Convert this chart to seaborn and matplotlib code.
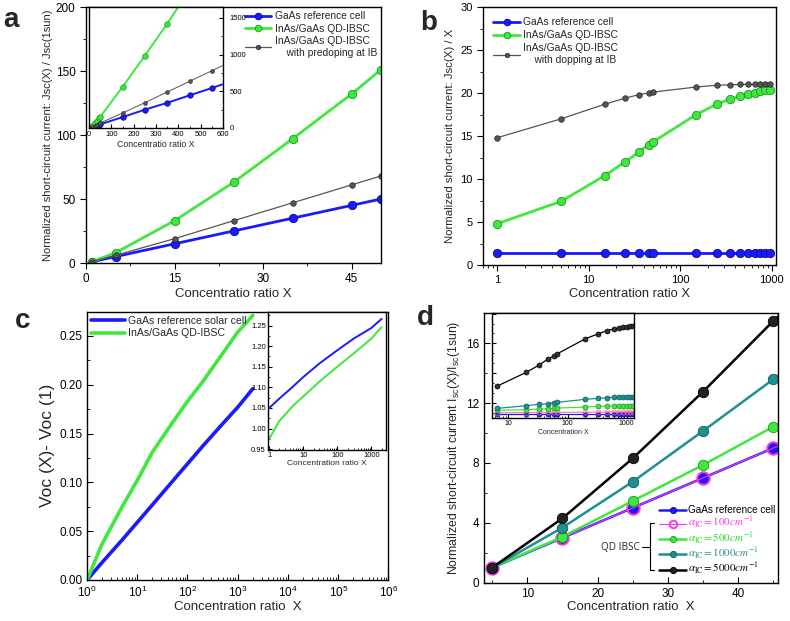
import matplotlib
matplotlib.use("Agg")
import matplotlib.pyplot as plt
from matplotlib.lines import Line2D
from matplotlib.ticker import MultipleLocator, FixedLocator, FuncFormatter, NullFormatter, LogLocator, AutoMinorLocator
import seaborn as sns

# ---- panel a: Jsc(X)/Jsc(1sun) ----
a_x = [1, 5, 15, 25, 35, 45, 50]
a_gaas = [1, 5, 15, 25, 35, 45, 50]
a_qd = [1, 8, 33, 63, 97, 132, 151]
a_qd_dop = [1, 6, 19, 33, 47, 61, 68]

# panel a inset (up to 650 suns)
ai_x = [1, 5, 15, 25, 35, 45, 50, 150, 250, 350, 450, 550, 650]
ai_gaas = [1, 5, 15, 25, 35, 45, 50, 148, 250, 343, 445, 545, 650]
ai_qd = [1, 8, 33, 63, 97, 132, 151, 559, 986, 1422, 1880, 2330, 2780]
ai_qd_dop = [1, 6, 19, 33, 47, 61, 68, 204, 345, 491, 636, 781, 925]

# ---- panel b: Jsc(X)/X ----
b_x = [1, 5, 15, 25, 35, 45, 50, 150, 250, 350, 450, 550, 650, 750, 850, 950]
b_gaas = [1.35] * 16
b_qd = [4.8, 7.4, 10.4, 12.0, 13.1, 14.0, 14.3, 17.5, 18.7, 19.3, 19.6, 19.9, 20.0, 20.2, 20.3, 20.35]
b_qd_dop = [14.8, 17.0, 18.7, 19.4, 19.8, 20.0, 20.1, 20.7, 20.9, 20.95, 21.0, 21.0, 21.0, 21.0, 21.0, 21.0]

# ---- panel c: Voc(X) - Voc(1) ----
c_x = [1, 2, 5, 10, 20, 50, 100, 200, 500, 1000, 2000]
c_gaas = [0, 0.018, 0.041, 0.059, 0.077, 0.101, 0.119, 0.137, 0.160, 0.177, 0.196]
c_qd = [0, 0.037, 0.075, 0.102, 0.131, 0.161, 0.183, 0.203, 0.232, 0.254, 0.271]

ci_x = [1, 2, 5, 10, 30, 100, 300, 1000, 2000]
ci_gaas = [1.050, 1.073, 1.102, 1.125, 1.158, 1.190, 1.218, 1.244, 1.266]
ci_qd = [0.975, 1.019, 1.055, 1.078, 1.114, 1.150, 1.182, 1.218, 1.246]

# ---- panel d: Isc(X)/Isc(1sun) for several alpha_IC ----
d_x = [5, 15, 25, 35, 45, 50]
d_gaas = [1, 3, 5, 7, 9, 10]
d_a100 = [1, 3, 5, 7, 9, 10]
d_a500 = [1, 3.07, 5.46, 7.87, 10.43, 11.7]
d_a1000 = [1, 3.68, 6.75, 10.14, 13.6, 15.5]
d_a5000 = [1, 4.3, 8.31, 12.77, 17.5, 19.7]

di_x = [6.5, 20, 33, 46, 60, 66, 200, 333, 466, 600, 733, 866, 1000, 1133, 1266]
di_gaas = [0.902] * 15
di_a100 = [0.916, 0.917, 0.918, 0.918, 0.919, 0.919, 0.920, 0.921, 0.921, 0.922, 0.922, 0.922, 0.922, 0.922, 0.922]
di_a500 = [0.936, 0.941, 0.947, 0.949, 0.953, 0.955, 0.964, 0.970, 0.972, 0.973, 0.974, 0.974, 0.975, 0.975, 0.975]
di_a1000 = [0.953, 0.975, 0.987, 0.992, 1.000, 1.003, 1.029, 1.037, 1.042, 1.045, 1.047, 1.048, 1.049, 1.050, 1.050]
di_a5000 = [1.141, 1.256, 1.318, 1.366, 1.396, 1.410, 1.539, 1.581, 1.607, 1.621, 1.629, 1.635, 1.640, 1.646, 1.649]

BLUE = "#1a1aff"
GREEN = "#3ee83e"
GRAY = "#555555"
MAGENTA = "#ff33ee"
TEAL = "#1f9090"

sns.set_style("ticks")
plt.rcParams["font.family"] = ["Liberation Sans", "DejaVu Sans"]
plt.rcParams["axes.linewidth"] = 1.0

W, H = 790, 621
fig = plt.figure(figsize=(W / 100, H / 100), dpi=100)


def px_axes(left, top, right, bottom):
    return fig.add_axes([left / W, 1 - bottom / H, (right - left) / W, (bottom - top) / H])


def box(ax, direction, size):
    for s in ax.spines.values():
        s.set_visible(True)
        s.set_color("black")
    ax.tick_params(which="both", direction=direction, labelsize=size, colors="black")
    ax.tick_params(which="major", length=4)
    ax.tick_params(which="minor", length=2)


plain = FuncFormatter(lambda v, p: f"{v:g}")

# ================= a =================
ax = px_axes(86, 7, 381, 263)
sns.lineplot(x=a_x, y=a_gaas, ax=ax, color=BLUE, linewidth=2, marker="o", markersize=6,
             markeredgecolor="#0b0b90", markeredgewidth=0.6, label="GaAs reference cell")
sns.lineplot(x=a_x, y=a_qd, ax=ax, color=GREEN, linewidth=2, marker="o", markersize=6,
             markeredgecolor="#1b9a1b", markeredgewidth=0.6, label="InAs/GaAs QD-IBSC")
sns.lineplot(x=a_x, y=a_qd_dop, ax=ax, color=GRAY, linewidth=0.9, marker="o", markersize=4,
             markeredgecolor="#222222", markeredgewidth=0.5,
             label="InAs/GaAs QD-IBSC\n    with predoping at IB")
ax.set_xlim(0, 50)
ax.set_ylim(0, 200)
ax.xaxis.set_major_locator(MultipleLocator(15))
ax.xaxis.set_minor_locator(MultipleLocator(7.5))
ax.yaxis.set_major_locator(MultipleLocator(50))
ax.yaxis.set_minor_locator(MultipleLocator(25))
box(ax, "out", 8.5)
ax.set_xlabel("Concentratio ratio X", fontsize=9.5, labelpad=2)
ax.set_ylabel("Normalized short-circuit current: Jsc(X) / Jsc(1sun)", fontsize=8, labelpad=2)
ax.legend(loc="upper right", frameon=False, fontsize=7.4, handlelength=2.6, handletextpad=0.3,
          labelspacing=0.25, borderaxespad=0.3, borderpad=0.1, markerscale=0.8)

axi = px_axes(89, 7, 223, 128)
sns.lineplot(x=ai_x, y=ai_gaas, ax=axi, color=BLUE, linewidth=1.4, marker="o", markersize=4,
             markeredgecolor="#0b0b90", markeredgewidth=0.5, legend=False)
sns.lineplot(x=ai_x, y=ai_qd, ax=axi, color=GREEN, linewidth=1.4, marker="o", markersize=4,
             markeredgecolor="#1b9a1b", markeredgewidth=0.5, legend=False)
sns.lineplot(x=ai_x, y=ai_qd_dop, ax=axi, color=GRAY, linewidth=0.7, marker="o", markersize=2.8,
             markeredgecolor="#222222", markeredgewidth=0.4, legend=False)
axi.set_xlim(0, 600)
axi.set_ylim(0, 1650)
axi.xaxis.set_major_locator(MultipleLocator(100))
axi.xaxis.set_minor_locator(MultipleLocator(50))
axi.yaxis.set_major_locator(MultipleLocator(500))
axi.yaxis.set_minor_locator(MultipleLocator(250))
axi.yaxis.tick_right()
box(axi, "in", 5.5)
axi.tick_params(which="major", length=3, pad=2.5)
axi.tick_params(which="minor", length=1.5)
axi.tick_params(axis="y", pad=4.5)
axi.set_xlabel("Concentratio ratio X", fontsize=6.3, labelpad=1)

# ================= b =================
ax = px_axes(483, 7, 776, 265)
sns.lineplot(x=b_x, y=b_gaas, ax=ax, color=BLUE, linewidth=2, marker="o", markersize=6,
             markeredgecolor="#0b0b90", markeredgewidth=0.6, label="GaAs reference cell")
sns.lineplot(x=b_x, y=b_qd, ax=ax, color=GREEN, linewidth=2, marker="o", markersize=6,
             markeredgecolor="#1b9a1b", markeredgewidth=0.6, label="InAs/GaAs QD-IBSC")
sns.lineplot(x=b_x, y=b_qd_dop, ax=ax, color=GRAY, linewidth=0.9, marker="o", markersize=4,
             markeredgecolor="#222222", markeredgewidth=0.5,
             label="InAs/GaAs QD-IBSC\n    with dopping at IB")
ax.set_xscale("log")
ax.set_xlim(0.7, 1110)
ax.set_ylim(0, 30)
ax.xaxis.set_major_locator(FixedLocator([1, 10, 100, 1000]))
ax.xaxis.set_major_formatter(plain)
ax.xaxis.set_minor_locator(LogLocator(base=10, subs=range(2, 10), numticks=20))
ax.xaxis.set_minor_formatter(NullFormatter())
ax.yaxis.set_major_locator(MultipleLocator(5))
ax.yaxis.set_minor_locator(MultipleLocator(2.5))
box(ax, "out", 8)
ax.set_xlabel("Concentration ratio X", fontsize=9.3, labelpad=2)
ax.set_ylabel("Normalized short-circuit current: Jsc(X) / X", fontsize=8.2, labelpad=4)
ax.legend(loc="upper left", frameon=False, fontsize=7.4, handlelength=2.6, handletextpad=0.3,
          labelspacing=0.3, borderaxespad=0.9, borderpad=0.1, markerscale=0.8)

# ================= c =================
ax = px_axes(87, 311.5, 388.5, 580)
sns.lineplot(x=c_x, y=c_gaas, ax=ax, color=BLUE, linewidth=2.6, label="GaAs reference solar cell")
sns.lineplot(x=c_x, y=c_qd, ax=ax, color=GREEN, linewidth=2.6, label="InAs/GaAs QD-IBSC")
ax.set_xscale("log")
ax.set_xlim(1, 1e6)
ax.set_ylim(0, 0.275)
ax.xaxis.set_major_locator(LogLocator(base=10, numticks=10))
ax.xaxis.set_minor_locator(LogLocator(base=10, subs=range(2, 10), numticks=60))
ax.xaxis.set_minor_formatter(NullFormatter())
ax.yaxis.set_major_locator(MultipleLocator(0.05))
ax.yaxis.set_minor_locator(MultipleLocator(0.025))
ax.yaxis.set_major_formatter(FuncFormatter(lambda v, p: f"{v:.2f}"))
box(ax, "in", 8.5)
ax.set_xlabel("Concentration ratio  X", fontsize=9.5, labelpad=1)
ax.set_ylabel("Voc (X)- Voc (1)", fontsize=12.5, labelpad=3)
ax.legend(loc="upper left", frameon=False, fontsize=7.6, handlelength=3.2, handletextpad=0.3,
          labelspacing=0.25, borderaxespad=0.3, borderpad=0.1)

axi = px_axes(268, 311.5, 386, 450)
sns.lineplot(x=ci_x, y=ci_gaas, ax=axi, color=BLUE, linewidth=1.4, legend=False)
sns.lineplot(x=ci_x, y=ci_qd, ax=axi, color=GREEN, linewidth=1.4, legend=False)
axi.set_xscale("log")
axi.set_xlim(0.92, 2700)
axi.set_ylim(0.948, 1.284)
axi.xaxis.set_major_locator(FixedLocator([1, 10, 100, 1000]))
axi.xaxis.set_major_formatter(plain)
axi.xaxis.set_minor_locator(LogLocator(base=10, subs=range(2, 10), numticks=20))
axi.xaxis.set_minor_formatter(NullFormatter())
axi.yaxis.set_major_locator(MultipleLocator(0.05))
axi.yaxis.set_minor_locator(MultipleLocator(0.025))
axi.yaxis.set_major_formatter(FuncFormatter(lambda v, p: f"{v:.2f}"))
box(axi, "in", 5.5)
axi.tick_params(which="major", length=3, pad=1.5)
axi.tick_params(which="minor", length=1.5)
axi.set_xlabel("Concentration ratio X", fontsize=6, labelpad=1)

# ================= d =================
ax = px_axes(484.3, 313.3, 777.7, 582.7)
sns.lineplot(x=d_x, y=d_gaas, ax=ax, color=BLUE, linewidth=1.8, marker="o", markersize=7.5,
             markeredgecolor="#0b0b90", markeredgewidth=0.6, label="GaAs reference cell")
sns.lineplot(x=d_x, y=d_a100, ax=ax, color=MAGENTA, linewidth=0.8, marker="o", markersize=9,
             markerfacecolor="none", markeredgecolor=MAGENTA, markeredgewidth=1.4,
             label=r"$\alpha_{\mathrm{IC}}=100cm^{-1}$")
sns.lineplot(x=d_x, y=d_a500, ax=ax, color=GREEN, linewidth=1.8, marker="o", markersize=7.5,
             markeredgecolor="#1b9a1b", markeredgewidth=0.6, label=r"$\alpha_{\mathrm{IC}}=500cm^{-1}$")
sns.lineplot(x=d_x, y=d_a1000, ax=ax, color=TEAL, linewidth=1.8, marker="o", markersize=7.5,
             markeredgecolor="#0d5a5a", markeredgewidth=0.6, label=r"$\alpha_{\mathrm{IC}}=1000cm^{-1}$")
sns.lineplot(x=d_x, y=d_a5000, ax=ax, color="black", linewidth=1.8, marker="o", markersize=7.5,
             markerfacecolor="#222222", markeredgecolor="black", markeredgewidth=0.6,
             label=r"$\alpha_{\mathrm{IC}}=5000cm^{-1}$")
ax.set_xlim(3.9, 45.6)
ax.set_ylim(0, 18)
ax.xaxis.set_major_locator(MultipleLocator(10))
ax.xaxis.set_minor_locator(MultipleLocator(5))
ax.yaxis.set_major_locator(MultipleLocator(4))
ax.yaxis.set_minor_locator(MultipleLocator(2))
box(ax, "in", 8.5)
ax.set_xlabel("Concentration ratio  X", fontsize=9.5, labelpad=1)
ax.set_ylabel(r"Normalized short-circuit current I$_{\mathregular{sc}}$(X)/I$_{\mathregular{sc}}$(1sun)",
              fontsize=8.8, labelpad=3)
leg = ax.legend(loc="upper left", bbox_to_anchor=(659 / W, 1 - 505 / H), bbox_transform=fig.transFigure,
                frameon=False, fontsize=7.2, handlelength=2.7, handletextpad=0.2, handleheight=0.5,
                labelspacing=0.0, borderaxespad=0, borderpad=0, markerscale=0.6)
text_colors = ["black", MAGENTA, "#22dd22", TEAL, "black"]
for i, t in enumerate(leg.get_texts()):
    t.set_color(text_colors[i])
    if i > 0:
        t.set_math_fontfamily("stix")
        t.set_fontsize(7.9)

# QD IBSC bracket
fig.add_artist(Line2D([654 / W, 650 / W, 650 / W, 654 / W],
                      [1 - 523 / H, 1 - 523 / H, 1 - 570 / H, 1 - 570 / H], color="black", lw=0.8))
fig.add_artist(Line2D([642 / W, 650 / W], [1 - 547 / H, 1 - 547 / H], color="black", lw=0.8))
fig.text(640 / W, 1 - 547 / H, "QD IBSC", ha="right", va="center", fontsize=7.2,
         family=["Open Sans", "DejaVu Sans"])

axi = px_axes(491.7, 313.3, 634.3, 418.3)
inset_series = [
    (di_gaas, BLUE, "#0b0b90", BLUE),
    (di_a100, "#ff7f9f", "#ff6f8f", "none"),
    (di_a500, GREEN, "#1b9a1b", GREEN),
    (di_a1000, TEAL, "#0d5a5a", TEAL),
    (di_a5000, "black", "black", "#333333"),
]
for ys, lc, ec, fc in inset_series:
    sns.lineplot(x=di_x, y=ys, ax=axi, color=lc, linewidth=0.9, marker="o", markersize=3.6,
                 markerfacecolor=fc, markeredgecolor=ec, markeredgewidth=0.5, legend=False)
axi.set_xscale("log")
axi.set_xlim(5.2, 1346)
axi.set_ylim(0.869, 1.753)
axi.xaxis.set_major_locator(FixedLocator([10, 100, 1000]))
axi.xaxis.set_major_formatter(plain)
axi.xaxis.set_minor_locator(LogLocator(base=10, subs=range(2, 10), numticks=20))
axi.xaxis.set_minor_formatter(NullFormatter())
axi.yaxis.set_major_locator(MultipleLocator(0.25))
axi.yaxis.set_minor_locator(AutoMinorLocator(3))
axi.yaxis.set_major_formatter(NullFormatter())
box(axi, "in", 5)
axi.tick_params(which="major", length=3, pad=1.5)
axi.tick_params(which="minor", length=1.5)
axi.set_xlabel("Concentration X", fontsize=5, labelpad=1)

# panel letters
for letter, x, y in [("a", 3, 27), ("b", 420, 30), ("c", 15, 328), ("d", 417, 325)]:
    fig.text(x / W, 1 - y / H, letter, fontsize=20, fontweight="bold", ha="left", va="baseline")

fig.savefig("out.png", dpi=100)
